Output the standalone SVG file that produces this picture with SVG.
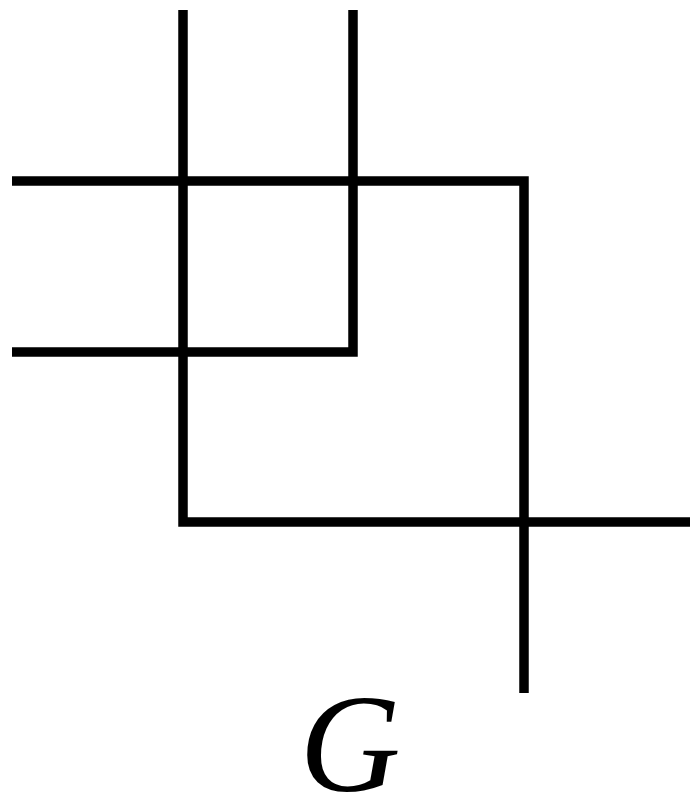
<svg xmlns="http://www.w3.org/2000/svg" width="690" height="806" viewBox="0 0 690 806">
<style>
.w{fill:none;stroke:#000;stroke-width:9.5;stroke-linecap:butt;stroke-linejoin:miter}
.lbl{font-family:"Liberation Serif","Times New Roman",serif;font-style:italic;font-size:140px;fill:#000}
</style>
<rect width="690" height="806" fill="#fff"/>
<g id="connectors">
<path class="w" d="M183,10 V522 H690"/>
<path class="w" d="M353,10 V352 H12"/>
<path class="w" d="M12,181 H524 V693"/>
</g>
<g id="label"><text class="lbl" x="350" y="791" text-anchor="middle">G</text></g>
</svg>
